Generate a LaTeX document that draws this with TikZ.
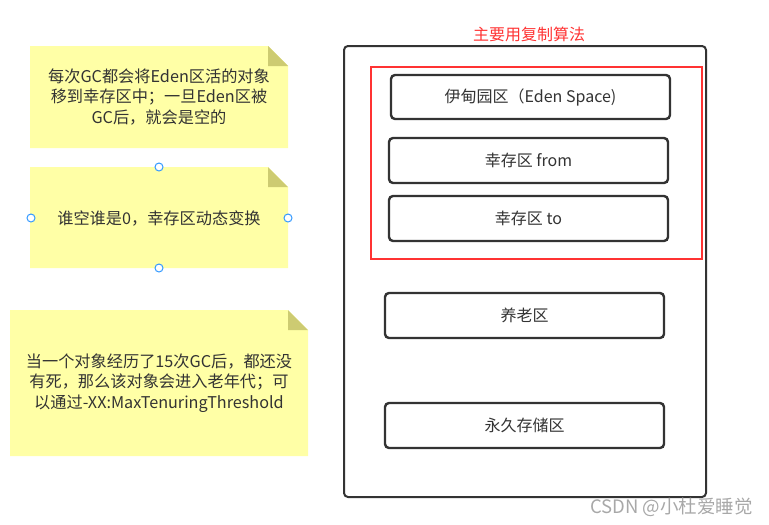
\documentclass[tikz,border=0pt]{standalone}
\usepackage{fontspec}
\setmainfont{Noto Sans CJK SC}
\begin{document}
\begin{tikzpicture}[x=1pt,y=-1pt,
  box/.style={draw=boxline,line width=2.4pt,rounded corners=4pt,fill=white,text=txt,font=\fontsize{16}{18}\selectfont},
  notetext/.style={text=txt,align=center,font=\fontsize{16.2}{20.5}\selectfont},
  handle/.style={draw=handleblue,fill=white,line width=1pt,circle,inner sep=0pt,minimum size=8pt}]
\definecolor{boxline}{HTML}{333333}
\definecolor{txt}{HTML}{333333}
\definecolor{notefill}{HTML}{FFFFA6}
\definecolor{notefold}{HTML}{CDCB72}
\definecolor{redline}{HTML}{FF3333}
\definecolor{handleblue}{HTML}{3399FF}
\definecolor{wm}{HTML}{A8A8A8}
\useasboundingbox (0,0) rectangle (769,525);
% notes
\newcommand{\stickynote}[5]{%
  \fill[notefill] (#1,#2) -- (#3-20,#2) -- (#3,#2+20) -- (#3,#4) -- (#1,#4) -- cycle;
  \fill[notefold] (#3-20,#2) -- (#3,#2+20) -- (#3-20,#2+20) -- cycle;
  \node[inner sep=0pt] (#5) at ({(#1+#3)/2},{(#2+#4)/2}) {};}
\stickynote{30}{46}{288}{148}{n1}
\node[notetext] (t1) at (159,97) {每次GC都会将Eden区活的对象\\移到幸存区中；一旦Eden区被\\GC后，就会是空的};
\stickynote{30}{167}{288}{268}{n2}
\node[notetext] (t2) at (159,218) {谁空谁是0，幸存区动态变换};
\stickynote{10}{310}{308}{456}{n3}
\node[notetext] (t3) at (159,383) {当一个对象经历了15次GC后，都还没\\有死，那么该对象会进入老年代；可\\以通过-XX:MaxTenuringThreshold};
\node[handle] (h1) at (159,167) {};
\node[handle] (h2) at (31,218) {};
\node[handle] (h3) at (288,218) {};
\node[handle] (h4) at (159,268) {};
% heap
\draw[boxline,line width=2pt,rounded corners=4pt] (344,46) rectangle (706,497);
\node[text=redline,font=\fontsize{16}{18}\selectfont] (title) at (529,34) {主要用复制算法};
\draw[redline,line width=2.4pt] (371,67) rectangle (702,259);
\node[box,minimum width=279pt,minimum height=44pt] (eden) at (530.5,97) {伊甸园区（Eden Space)};
\node[box,minimum width=279pt,minimum height=45pt] (from) at (528.5,160.5) {幸存区 from};
\node[box,minimum width=279pt,minimum height=45pt] (to) at (528.5,218.5) {幸存区 to};
\node[box,minimum width=279pt,minimum height=45pt] (old) at (524.5,315.5) {养老区};
\node[box,minimum width=279pt,minimum height=45pt] (perm) at (524.5,425.5) {永久存储区};
\node[text=wm,font=\fontsize{18.5}{20}\selectfont,anchor=east,inner sep=0pt] (wmk) at (753,507) {CSDN @小杜爱睡觉};
\end{tikzpicture}
\end{document}
